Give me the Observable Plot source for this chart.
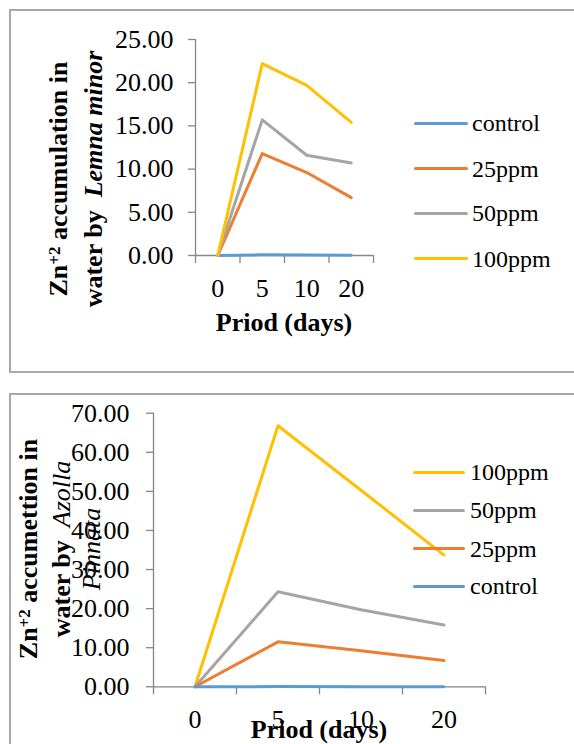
<!DOCTYPE html>
<html>
<head>
<meta charset="utf-8">
<script src="https://cdn.jsdelivr.net/npm/d3@7"></script>
<script src="https://cdn.jsdelivr.net/npm/@observablehq/plot@0.6"></script>
<style>
html, body { margin: 0; padding: 0; background: #fff; }
body { width: 574px; height: 744px; position: relative; overflow: hidden;
  font-family: "Liberation Serif", LiberationSerif, Tinos, "Times New Roman", Times, "DejaVu Serif", "Noto Serif", serif; color: #000; }
.box { position: absolute; border: 2px solid #A9A9A9; box-sizing: border-box; }
.chart { position: absolute; left: 0; }
.ytitle { position: absolute; transform: translate(-50%, -50%) rotate(-90deg);
  white-space: pre; text-align: center; font-size: 26px; font-weight: bold; }
.sup { font-size: 17px; position: relative; top: -7.5px; }
.xtitle { position: absolute; transform: translateX(-50%); white-space: pre;
  font-size: 26px; font-weight: bold; line-height: 26px; }
.legend-row { position: absolute; height: 26px; display: flex; align-items: center;
  font-size: 24px; line-height: 26px; white-space: nowrap; }
.swatch { height: 3px; border-radius: 2px; }
</style>
</head>
<body>
<div class="box" style="left:9px; top:9px; width:700px; height:364px;"></div>
<div class="box" style="left:9px; top:393px; width:700px; height:500px;"></div>
<div id="c1" class="chart" style="top:0px;"></div>
<div id="c2" class="chart" style="top:372px;"></div>
<div id="overlay"></div>
<script>
// ---- data ----
const periods = ["0", "5", "10", "20"];
const seriesNames = ["control", "25ppm", "50ppm", "100ppm"];
const seriesColors = ["#5B9BD5", "#ED7D31", "#A5A5A5", "#FFC000"];

// Lemna minor (top chart)
const lemnaControl = [0, 0.08, 0.05, 0.03];
const lemna25 = [0, 11.8, 9.6, 6.7];
const lemna50 = [0, 15.7, 11.6, 10.7];
const lemna100 = [0, 22.2, 19.7, 15.4];
const lemnaTicks = [0, 5, 10, 15, 20, 25];

// Azolla Pinnata (bottom chart)
const azollaControl = [0, 0.05, 0.04, 0.03];
const azolla25 = [0, 11.5, 9.2, 6.7];
const azolla50 = [0, 24.3, 19.7, 15.8];
const azolla100 = [0, 66.8, 50.3, 33.7];
const azollaTicks = [0, 10, 20, 30, 40, 50, 60, 70];

const axisColor = "#868686";
const fontFamily = '"Liberation Serif", LiberationSerif, Tinos, "Times New Roman", Times, "DejaVu Serif", "Noto Serif", serif';

function tidy(seriesList) {
  const rows = [];
  seriesList.forEach(([name, vals]) => vals.forEach((v, i) => rows.push({series: name, i, v})));
  return rows;
}

function makeChart(o) {
  const boundaries = d3.range(periods.length + 1).map(i => i - 0.5);
  return Plot.plot({
    width: 574, height: 372,
    marginLeft: o.ml, marginRight: o.mr, marginTop: o.mt, marginBottom: o.mb,
    style: {fontFamily, fontSize: "26px", background: "transparent", color: "black", overflow: "visible"},
    x: {type: "linear", domain: [-0.5, periods.length - 0.5], axis: null},
    y: {domain: [0, o.ymax], axis: null},
    color: {domain: seriesNames, range: seriesColors},
    marks: [
      Plot.ruleY([0], {stroke: axisColor, strokeWidth: 1.3}),
      Plot.ruleX([-0.5], {y1: 0, y2: o.ymax, stroke: axisColor, strokeWidth: 1.3}),
      Plot.axisY({ticks: o.ticks, tickSize: 7, tickPadding: o.tp, tickFormat: d3.format(".2f"),
        stroke: axisColor, fill: "black", label: null, fontSize: 26, strokeWidth: 1.3}),
      Plot.axisX({ticks: boundaries, tickSize: 8, tickFormat: () => "", stroke: axisColor,
        label: null, strokeWidth: 1.3}),
      Plot.axisX({ticks: d3.range(periods.length), tickSize: 0, tickPadding: 23,
        tickFormat: i => periods[i], fill: "black", stroke: "none", label: null, fontSize: 26}),
      Plot.line(o.data, {x: "i", y: "v", z: "series", stroke: "series", strokeWidth: 3,
        strokeLinecap: "round", strokeLinejoin: "round"})
    ]
  });
}

document.getElementById("c1").append(makeChart({
  ml: 195, mr: 201, mt: 39, mb: 117, ymax: 25, ticks: lemnaTicks, tp: 15,
  data: tidy([["control", lemnaControl], ["25ppm", lemna25], ["50ppm", lemna50], ["100ppm", lemna100]])
}));
document.getElementById("c2").append(makeChart({
  ml: 153, mr: 89, mt: 40.7, mb: 57.7, ymax: 70, ticks: azollaTicks, tp: 17,
  data: tidy([["100ppm", azolla100], ["50ppm", azolla50], ["25ppm", azolla25], ["control", azollaControl]])
}));

// ---- titles and legends ----
const overlay = document.getElementById("overlay");
function add(html) { overlay.insertAdjacentHTML("beforeend", html); }

add(`<div class="ytitle" style="left:76px; top:179px; line-height:32px;">Zn<span class="sup">+2</span> accumulation in
water by  <i>Lemna minor</i></div>`);
add(`<div class="ytitle" style="left:60px; top:549px; line-height:30px;">Zn<span class="sup">+2</span> accumettion in
water by  <i style="font-weight:normal">Azolla</i>
<i style="font-weight:normal">Pinnata</i></div>`);

add(`<div class="xtitle" style="left:284px; top:310px;">Priod (days)</div>`);
add(`<div class="xtitle" style="left:319px; top:717px;">Priod (days)</div>`);

function legend(order, x0, lineW, gap, ys) {
  order.forEach((name, k) => {
    const c = seriesColors[seriesNames.indexOf(name)];
    add(`<div class="legend-row" style="left:${x0}px; top:${ys[k] - 13}px;">
      <div class="swatch" style="width:${lineW}px; background:${c}; margin-right:${gap}px;"></div>${name}</div>`);
  });
}
legend(["control", "25ppm", "50ppm", "100ppm"], 414, 54, 4, [123.3, 168.5, 213.3, 258.8]);
legend(["100ppm", "50ppm", "25ppm", "control"], 412.5, 52.5, 5, [472, 510.3, 548.7, 586.3]);
</script>
</body>
</html>
